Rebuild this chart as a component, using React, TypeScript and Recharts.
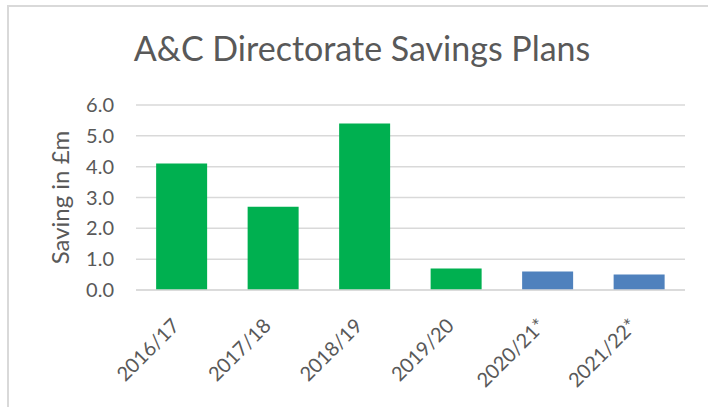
import React from "react";
import { BarChart, Bar, XAxis, YAxis, CartesianGrid, Cell } from "recharts";

const years = ["2016/17", "2017/18", "2018/19", "2019/20", "2020/21*", "2021/22*"];
const savings = [4.1, 2.7, 5.4, 0.7, 0.6, 0.5];
const barColors = ["#00B050", "#00B050", "#00B050", "#00B050", "#4F81BD", "#4F81BD"];
const yTicks = [0, 1, 2, 3, 4, 5, 6];

const data = years.map((year, i) => ({ year, saving: savings[i] }));

const FONT = "Lato, 'Open Sans', sans-serif";
const TEXT = "#595959";

function XTick(props: any) {
  const { x, y, payload } = props;
  return (
    <g transform={`translate(${x - 1},${y + 29})`}>
      <text
        x={0}
        y={0}
        textAnchor="end"
        transform="rotate(-45)"
        fill={TEXT}
        fontSize={20}
        fontFamily={FONT}
      >
        {payload.value}
      </text>
    </g>
  );
}

export default function App() {
  return (
    <div
      style={{
        position: "absolute",
        left: 0,
        top: 0,
        width: 708,
        height: 407,
        overflow: "hidden",
        background: "#fff",
      }}
    >
      <div
        style={{
          position: "absolute",
          left: 7,
          top: 5,
          width: 740,
          height: 440,
          border: "2px solid #d9d9d9",
        }}
      />
      <div
        style={{
          position: "absolute",
          left: 0,
          top: 27,
          width: 724,
          textAlign: "center",
          fontFamily: FONT,
          fontSize: 34,
          color: TEXT,
        }}
      >
        A&amp;C Directorate Savings Plans
      </div>
      <div style={{ position: "absolute", left: 0, top: 0 }}>
        <BarChart
          width={708}
          height={407}
          data={data}
          margin={{ top: 105, right: 23, bottom: 17, left: 76 }}
          barCategoryGap="22%"
        >
          <CartesianGrid vertical={false} stroke="#d9d9d9" strokeWidth={1.5} />
          <XAxis
            dataKey="year"
            height={100}
            interval={0}
            tickLine={false}
            axisLine={{ stroke: "#d9d9d9", strokeWidth: 1.5 }}
            tick={<XTick />}
          />
          <YAxis
            width={60}
            domain={[0, 6]}
            ticks={yTicks}
            interval={0}
            axisLine={false}
            tickLine={false}
            tickFormatter={(v: number) => v.toFixed(1)}
            tick={{ fill: TEXT, fontSize: 20, fontFamily: FONT }}
            tickMargin={16}
            label={{
              value: "Saving in £m",
              angle: -90,
              position: "left",
              offset: 16,
              style: { textAnchor: "middle", fill: TEXT, fontSize: 24, fontFamily: FONT },
            }}
          />
          <Bar dataKey="saving" isAnimationActive={false}>
            {data.map((_, i) => (
              <Cell key={`cell-${i}`} fill={barColors[i]} />
            ))}
          </Bar>
        </BarChart>
      </div>
    </div>
  );
}
